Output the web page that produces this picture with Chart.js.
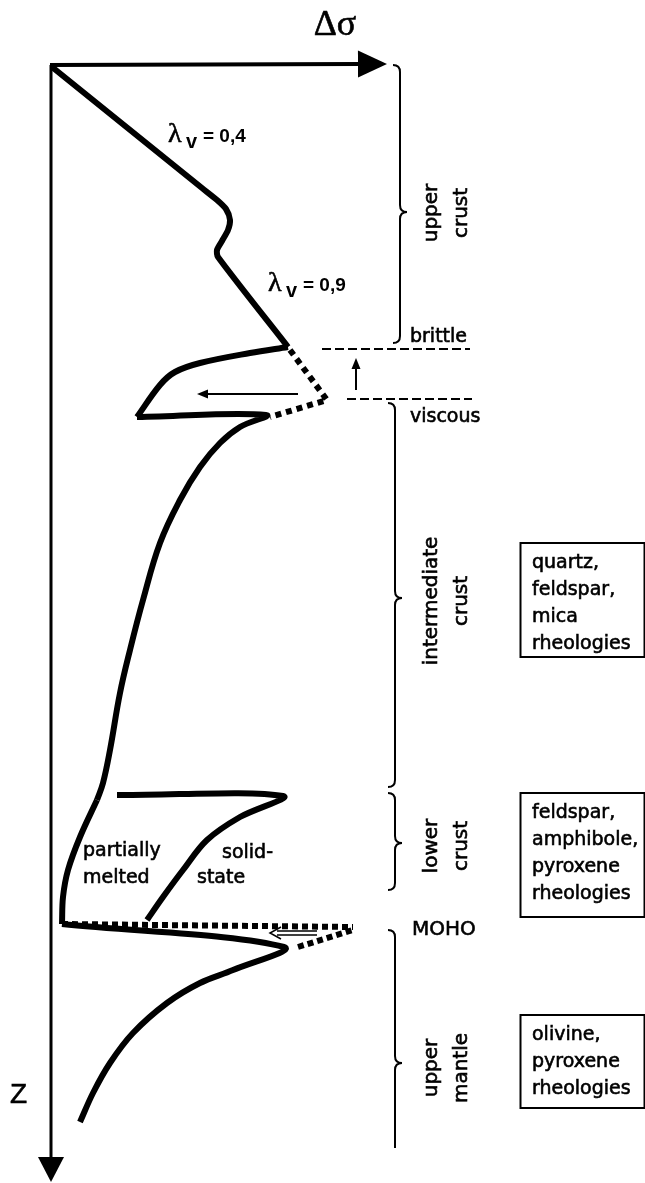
<!DOCTYPE html>
<html>
<head>
<meta charset="utf-8">
<script src="https://cdn.jsdelivr.net/npm/chart.js@4.4.1/dist/chart.umd.min.js"></script>
<style>
  html, body { margin: 0; padding: 0; background: #fff; }
  #wrap { width: 645px; height: 1183px; position: relative; }
</style>
</head>
<body>
<div id="wrap"><canvas id="chart"></canvas></div>
<script>
// strength envelope, arbitrary units: ds = differential stress, z = depth (downwards)

// brittle part (lambda_v = 0,4 then 0,9)
var brittleDs = [0, 150, 165, 174, 178, 176, 170, 165, 166, 236];
var brittleZ  = [0, 121, 133, 142, 153, 163, 174, 183, 190, 280];

// branch just under the brittle / viscous transition
var cuspDs = [236, 198, 148, 123, 108, 85];
var cuspZ  = [280, 286, 296, 305, 318, 350];

// viscous flow, intermediate crust
var viscousDs = [85, 214, 188, 168, 148, 128, 108, 91, 78, 68, 58, 51, 45];
var viscousZ  = [350, 348, 360, 376, 400, 433, 476, 533, 583, 626, 683, 716, 733];

// lower crust, partially melted
var meltDs = [45, 28, 16, 11, 10];
var meltZ  = [733, 770, 803, 830, 857];

// lower crust, solid-state
var solidDs = [65, 231, 188, 155, 131, 111, 95];
var solidZ  = [728, 729, 750, 773, 803, 830, 853];

// moho jump and upper mantle
var mantleDs = [10, 232, 181, 148, 115, 81, 58, 41, 28];
var mantleZ  = [857, 880, 903, 916, 936, 966, 996, 1026, 1055];

// dotted parts
var transDs = [238, 275, 218];
var transZ  = [283, 333, 350];
var mohoDs  = [10, 301];
var mohoZ   = [857, 860];
var mohoDs2 = [246, 301];
var mohoZ2  = [880, 863];

// brittle / viscous limits
var brittleDepth = 282, viscousDepth = 332;
var brittleLineDs = [270, 418];
var viscousLineDs = [295, 420];

// layers on the right
var layerNames  = [['upper', 'crust'], ['intermediate', 'crust'], ['lower', 'crust'], ['upper', 'mantle']];
var layerTop    = [-2, 336, 726, 863];
var layerBottom = [276, 720, 823, 1081];
var layerTip    = [145, 531, 776, 996];
var layerMid    = [146, 534, 779, 1001];

// rheology boxes
var boxText   = [['quartz,', 'feldspar,', 'mica', 'rheologies'],
                 ['feldspar,', 'amphibole,', 'pyroxene', 'rheologies'],
                 ['olivine,', 'pyroxene', 'rheologies']];
var boxTop    = [476, 726, 948];
var boxBottom = [590, 850, 1041];

var lambdaText = ['0,4', '0,9'];
var lambdaDs = [116, 216];
var lambdaZ  = [75, 224];

var axisDsEnd = 335, axisZEnd = 1115;

function pts(ds, z) {
  return ds.map(function (v, i) { return { x: v, y: z[i] }; });
}

function line(ds, z, tension, dash, width) {
  return {
    data: pts(ds, z),
    showLine: true,
    pointRadius: 0,
    borderColor: '#000',
    borderWidth: width || 6,
    borderDash: dash || [],
    tension: tension,
    borderJoinStyle: 'round',
    borderCapStyle: 'butt',
    fill: false
  };
}

function arrow(ctx, x0, y0, x1, y1, len, half, w) {
  var a = Math.atan2(y1 - y0, x1 - x0);
  ctx.lineWidth = w;
  ctx.beginPath();
  ctx.moveTo(x0, y0);
  ctx.lineTo(x1 - len * Math.cos(a), y1 - len * Math.sin(a));
  ctx.stroke();
  ctx.beginPath();
  ctx.moveTo(x1, y1);
  ctx.lineTo(x1 - len * Math.cos(a) + half * Math.sin(a), y1 - len * Math.sin(a) - half * Math.cos(a));
  ctx.lineTo(x1 - len * Math.cos(a) - half * Math.sin(a), y1 - len * Math.sin(a) + half * Math.cos(a));
  ctx.closePath();
  ctx.fill();
}

function brace(ctx, x, y0, y1, ym, botHook) {
  var r = 7;
  ctx.lineWidth = 2;
  ctx.beginPath();
  ctx.moveTo(x - r, y0);
  ctx.quadraticCurveTo(x, y0, x, y0 + r);
  ctx.lineTo(x, ym - r);
  ctx.quadraticCurveTo(x, ym, x + r, ym);
  ctx.quadraticCurveTo(x, ym, x, ym + r);
  if (botHook) {
    ctx.lineTo(x, y1 - r);
    ctx.quadraticCurveTo(x, y1, x - r, y1);
  } else {
    ctx.lineTo(x, y1);
  }
  ctx.stroke();
}

// slightly heavier text, like the scanned original
function txt(ctx, t, x, y) {
  ctx.fillText(t, x, y);
  ctx.lineWidth = 0.6;
  ctx.strokeText(t, x, y);
}

var sketch = {
  id: 'sketch',
  afterDatasetsDraw: function (chart) {
    var ctx = chart.ctx, sx = chart.scales.x, sy = chart.scales.y;
    var X = function (v) { return sx.getPixelForValue(v); };
    var Y = function (v) { return sy.getPixelForValue(v); };
    ctx.save();
    ctx.strokeStyle = '#000';
    ctx.fillStyle = '#000';
    ctx.lineCap = 'butt';

    // axes
    arrow(ctx, X(-2), Y(-2), X(axisDsEnd), Y(-3), 29, 13.5, 4);
    arrow(ctx, X(-1), Y(-2), X(-1), Y(axisZEnd), 25, 13, 3);
    ctx.textAlign = 'center';
    ctx.textBaseline = 'alphabetic';
    ctx.font = '36px "Liberation Serif"';
    txt(ctx, '\u0394\u03c3', X(283), Y(-32));
    ctx.textAlign = 'left';
    ctx.font = '28px "Liberation Sans"';
    txt(ctx, 'Z', X(-42), Y(1036));

    // lambda labels
    lambdaText.forEach(function (t, i) {
      var x = X(lambdaDs[i]), y = Y(lambdaZ[i]);
      ctx.font = '28px "Liberation Serif"';
      txt(ctx, '\u03bb', x, y);
      ctx.font = 'bold 20px "Liberation Sans"';
      ctx.fillText('v', x + 18, y + 6);
      ctx.font = 'bold 19px "Liberation Sans"';
      ctx.fillText('= ' + t, x + 35, y);
    });

    // arrows
    arrow(ctx, X(246), Y(327), X(145), Y(327), 11, 4.5, 2);
    arrow(ctx, X(304), Y(323), X(304), Y(291), 11, 4.5, 2);
    // open arrow at the moho
    ctx.lineWidth = 1.5;
    ctx.beginPath();
    ctx.moveTo(X(265), Y(864)); ctx.lineTo(X(225), Y(864));
    ctx.moveTo(X(265), Y(868)); ctx.lineTo(X(225), Y(868));
    ctx.moveTo(X(229), Y(860)); ctx.lineTo(X(218), Y(866)); ctx.lineTo(X(229), Y(872));
    ctx.stroke();

    // braces and layer names
    layerNames.forEach(function (names, i) {
      var bx = i === 0 ? X(348) : X(343);
      brace(ctx, bx, Y(layerTop[i]), Y(layerBottom[i]), Y(layerTip[i]), i !== 3);
      ctx.save();
      ctx.translate(X(400), Y(layerMid[i]));
      ctx.rotate(-Math.PI / 2);
      ctx.textAlign = 'center';
      ctx.font = '20px "DejaVu Sans"';
      txt(ctx, names[0], 0, -15);
      txt(ctx, names[1], 0, 15);
      ctx.restore();
    });

    ctx.textAlign = 'left';
    ctx.font = '19px "DejaVu Sans"';
    txt(ctx, 'brittle', X(358), Y(brittleDepth - 7));
    txt(ctx, 'viscous', X(358), Y(viscousDepth + 23));
    ctx.font = '20px "DejaVu Sans"';
    txt(ctx, 'MOHO', X(360), Y(868));
    ctx.font = '19px "DejaVu Sans"';
    txt(ctx, 'partially', X(31), Y(789));
    txt(ctx, 'melted', X(31), Y(816));
    txt(ctx, 'solid-', X(170), Y(791));
    txt(ctx, 'state', X(145), Y(816));

    // rheology boxes
    boxText.forEach(function (lines, i) {
      var top = Y(boxTop[i]), bot = Y(boxBottom[i]);
      ctx.lineWidth = 2;
      ctx.strokeRect(X(468) + 0.5, top, X(592) - X(468), bot - top);
      ctx.font = '19px "DejaVu Sans"';
      lines.forEach(function (t, k) {
        txt(ctx, t, X(480), top + 25 + k * 27);
      });
    });
    ctx.restore();
  }
};

new Chart(document.getElementById('chart'), {
  type: 'scatter',
  data: {
    datasets: [
      line(brittleDs, brittleZ, 0.25),
      line(cuspDs, cuspZ, 0.35),
      line(viscousDs, viscousZ, 0.4),
      line(meltDs, meltZ, 0.35),
      line(solidDs, solidZ, 0.35),
      line(mantleDs, mantleZ, 0.35),
      line(transDs, transZ, 0, [6, 5], 6),
      line(mohoDs, mohoZ, 0, [6, 4], 6),
      line(mohoDs2, mohoZ2, 0, [6, 4], 6),
      line(brittleLineDs, [brittleDepth, brittleDepth], 0, [9, 4], 2),
      line(viscousLineDs, [viscousDepth, viscousDepth], 0, [9, 4], 2)
    ]
  },
  options: {
    responsive: true,
    maintainAspectRatio: false,
    animation: false,
    layout: { padding: 0 },
    plugins: { legend: { display: false }, tooltip: { enabled: false } },
    scales: {
      x: { type: 'linear', min: -52, max: 593, display: false },
      y: { type: 'linear', min: -67, max: 1116, reverse: true, display: false }
    }
  },
  plugins: [sketch]
});
</script>
</body>
</html>
